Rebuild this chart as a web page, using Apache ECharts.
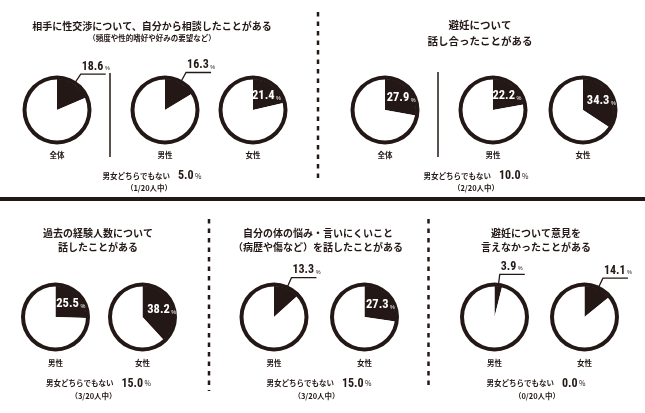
<!DOCTYPE html>
<html>
<head>
<meta charset="utf-8">
<script src="https://cdn.jsdelivr.net/npm/echarts@6/dist/echarts.min.js"></script>
<style>
html, body { margin: 0; padding: 0; background: #fff; }
#chart { width: 645px; height: 413px; }
</style>
</head>
<body>
<div id="chart"></div>
<script>
// data
const groupsAll = ['全体', '男性', '女性'];
const groupsMF = ['男性', '女性'];

const titleQ1 = ['相手に性交渉について、自分から相談したことがある'];
const noteQ1 = '（頻度や性的嗜好や好みの要望など）';
const titleQ2 = ['避妊について', '話し合ったことがある'];
const titleQ3 = ['過去の経験人数について', '話したことがある'];
const titleQ4 = ['自分の体の悩み・言いにくいこと', '（病歴や傷など）を話したことがある'];
const titleQ5 = ['避妊について意見を', '言えなかったことがある'];

const valuesQ1 = [18.6, 16.3, 21.4];
const valuesQ2 = [27.9, 22.2, 34.3];
const valuesQ3 = [25.5, 38.2];
const valuesQ4 = [13.3, 27.3];
const valuesQ5 = [3.9, 14.1];

const otherLabel = '男女どちらでもない';
const otherPct = [5.0, 10.0, 15.0, 15.0, 0.0];
const otherCount = [1, 2, 3, 3, 0];
const otherTotal = 20;

// look
const ink = '#231815';
const numFont = "'Roboto Condensed', 'Open Sans Condensed', sans-serif";
const numWeight = 'bold';
const jpFont = "'Noto Sans CJK JP', 'Noto Sans', sans-serif";
const R = 31;

const panels = [
  { title: titleQ1, note: noteQ1, groups: groupsAll, values: valuesQ1, xs: [57, 165, 253], cy: 110,
    tx: 152, ty: [26], tsize: 10, gy: 155, ox: 152, oy: 176, cx2: 149 },
  { title: titleQ2, groups: groupsAll, values: valuesQ2, xs: [385, 493, 583], cy: 110,
    tx: 480, ty: [25.5, 41], tsize: 10.5, gy: 155, ox: 476, oy: 176, cx2: 476 },
  { title: titleQ3, groups: groupsMF, values: valuesQ3, xs: [55.5, 142.5], cy: 317,
    tx: 98, ty: [233, 247], tsize: 10, gy: 363.5, ox: 98.5, oy: 383.5, cx2: 93.5 },
  { title: titleQ4, groups: groupsMF, values: valuesQ4, xs: [274, 364.5], cy: 317,
    tx: 318, ty: [233, 247], tsize: 10, gy: 363.5, ox: 319, oy: 383.5, cx2: 316.5 },
  { title: titleQ5, groups: groupsMF, values: valuesQ5, xs: [494.5, 584.5], cy: 317,
    tx: 536, ty: [233, 247], tsize: 10, gy: 363.5, ox: 536, oy: 383.5, cx2: 537 }
];

function sliceLabel(v) {
  let inside = v >= 20;
  let c = inside ? '#fff' : ink;
  let label = {
    show: true,
    formatter: '{v|' + v.toFixed(1) + '}{p|%}',
    rich: {
      v: { fontSize: inside ? 12.5 : 12, fontWeight: numWeight, fontFamily: numFont, color: c },
      p: { fontSize: 5.5, color: c, padding: [0, 0, 1, 1.5], verticalAlign: 'bottom' }
    }
  };
  if (inside) {
    label.position = 'inside';
  } else {
    label.position = 'outside';
    label.alignTo = 'none';
    label.distanceToLabelLine = -24;
    label.padding = [0, 0, 15, 0];
  }
  return label;
}

let series = [];
let graphic = [];

panels.forEach((p, i) => {
  p.values.forEach((v, j) => {
    let cx = p.xs[j];
    let s = {
      type: 'pie', center: [cx, p.cy], radius: [0, R],
      startAngle: 90, clockwise: true, silent: true,
      avoidLabelOverlap: false,
      itemStyle: { borderWidth: 0 },
      data: [
        { value: v, name: p.groups[j], itemStyle: { color: ink },
          label: sliceLabel(v),
          labelLine: { show: v < 20, length: 12, length2: 25, smooth: false,
                       lineStyle: { color: ink, width: 1.3 } } },
        { value: 100 - v, name: 'その他', itemStyle: { color: '#fff' },
          label: { show: false }, labelLine: { show: false } }
      ]
    };
    if (v >= 20) s.labelLayout = { dx: 2 };
    series.push(s);
    // outline ring
    series.push({
      type: 'pie', center: [cx, p.cy], radius: [R - 0.5, R + 3.5],
      silent: true, label: { show: false }, labelLine: { show: false },
      itemStyle: { borderWidth: 0 },
      data: [{ value: 1, itemStyle: { color: ink } }]
    });
    graphic.push({
      type: 'text', x: cx, y: p.gy,
      style: { text: p.groups[j], align: 'center', verticalAlign: 'middle',
               fontSize: 7.5, fontWeight: 'bold', fontFamily: jpFont, fill: ink }
    });
  });

  p.title.forEach((t, k) => {
    graphic.push({
      type: 'text', x: p.tx, y: p.ty[k],
      style: { text: t, align: 'center', verticalAlign: 'middle',
               fontSize: p.tsize, fontWeight: 'bold', fontFamily: jpFont, fill: ink }
    });
  });
  if (p.note) {
    graphic.push({
      type: 'text', x: p.tx, y: 38,
      style: { text: p.note, align: 'center', verticalAlign: 'middle',
               fontSize: 7.5, fontWeight: 'bold', fontFamily: jpFont, fill: ink }
    });
  }

  graphic.push({
    type: 'text', x: p.ox, y: p.oy,
    style: {
      text: '{a|' + otherLabel + '}{n|' + otherPct[i].toFixed(1) + '}{p|%}',
      align: 'center', verticalAlign: 'middle',
      rich: {
        a: { fontSize: 7.5, fontWeight: 'bold', fontFamily: jpFont, fill: ink },
        n: { fontSize: 12, fontWeight: numWeight, fontFamily: numFont, fill: ink, padding: [0, 1.5, 0, 8] },
        p: { fontSize: 7, fontFamily: jpFont, fill: ink }
      }
    }
  });
  graphic.push({
    type: 'text', x: p.cx2, y: p.oy + 12.5,
    style: { text: '（' + otherCount[i] + '/' + otherTotal + '人中）', align: 'center', verticalAlign: 'middle',
             fontSize: 7.5, fontWeight: 'bold', fontFamily: jpFont, fill: ink }
  });
});

// dividers
graphic.push(
  { type: 'rect', shape: { x: 0, y: 197, width: 645, height: 4 }, style: { fill: ink } },
  { type: 'line', shape: { x1: 318, y1: 12, x2: 318, y2: 183 },
    style: { stroke: ink, lineWidth: 2.5, lineDash: [4.5, 5] } },
  { type: 'line', shape: { x1: 209, y1: 219, x2: 209, y2: 391 },
    style: { stroke: ink, lineWidth: 2.5, lineDash: [4.5, 5] } },
  { type: 'line', shape: { x1: 428.5, y1: 219, x2: 428.5, y2: 388 },
    style: { stroke: ink, lineWidth: 2.5, lineDash: [4.5, 5] } },
  { type: 'line', shape: { x1: 110, y1: 73, x2: 110, y2: 157 },
    style: { stroke: ink, lineWidth: 1.5 } },
  { type: 'line', shape: { x1: 438, y1: 72, x2: 438, y2: 157 },
    style: { stroke: ink, lineWidth: 1.5 } }
);

let chart = echarts.init(document.getElementById('chart'));
chart.setOption({
  animation: false,
  backgroundColor: '#fff',
  series: series,
  graphic: graphic
});
</script>
</body>
</html>
